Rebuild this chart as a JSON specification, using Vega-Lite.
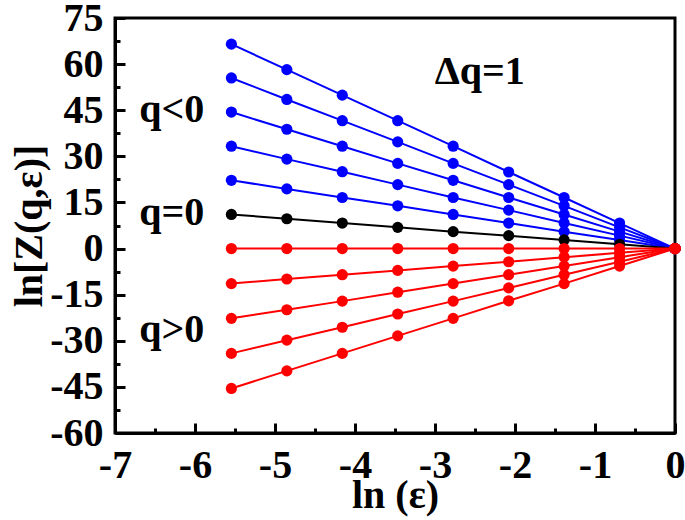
{
  "$schema": "https://vega.github.io/schema/vega-lite/v6.json",
  "width": 560,
  "height": 415,
  "autosize": "none",
  "padding": {"left": 115, "top": 18, "right": 10, "bottom": 87},
  "config": {
    "view": {"stroke": "black", "strokeWidth": 3},
    "font": "Liberation Serif"
  },
  "datasets": {
    "main": [
      {"q": -5, "grp": "neg", "x": -5.545, "y": 66.5}, {"q": -5, "grp": "neg", "x": -4.852, "y": 58.2}, {"q": -5, "grp": "neg", "x": -4.159, "y": 49.9}, {"q": -5, "grp": "neg", "x": -3.466, "y": 41.6}, {"q": -5, "grp": "neg", "x": -2.773, "y": 33.3}, {"q": -5, "grp": "neg", "x": -2.079, "y": 24.9}, {"q": -5, "grp": "neg", "x": -1.386, "y": 16.6}, {"q": -5, "grp": "neg", "x": -0.693, "y": 8.3}, {"q": -5, "grp": "neg", "x": 0, "y": 0},
      {"q": -4, "grp": "neg", "x": -5.545, "y": 55.5}, {"q": -4, "grp": "neg", "x": -4.852, "y": 48.5}, {"q": -4, "grp": "neg", "x": -4.159, "y": 41.6}, {"q": -4, "grp": "neg", "x": -3.466, "y": 34.7}, {"q": -4, "grp": "neg", "x": -2.773, "y": 27.7}, {"q": -4, "grp": "neg", "x": -2.079, "y": 20.8}, {"q": -4, "grp": "neg", "x": -1.386, "y": 13.9}, {"q": -4, "grp": "neg", "x": -0.693, "y": 6.9}, {"q": -4, "grp": "neg", "x": 0, "y": 0},
      {"q": -3, "grp": "neg", "x": -5.545, "y": 44.4}, {"q": -3, "grp": "neg", "x": -4.852, "y": 38.8}, {"q": -3, "grp": "neg", "x": -4.159, "y": 33.3}, {"q": -3, "grp": "neg", "x": -3.466, "y": 27.7}, {"q": -3, "grp": "neg", "x": -2.773, "y": 22.2}, {"q": -3, "grp": "neg", "x": -2.079, "y": 16.6}, {"q": -3, "grp": "neg", "x": -1.386, "y": 11.1}, {"q": -3, "grp": "neg", "x": -0.693, "y": 5.5}, {"q": -3, "grp": "neg", "x": 0, "y": 0},
      {"q": -2, "grp": "neg", "x": -5.545, "y": 33.3}, {"q": -2, "grp": "neg", "x": -4.852, "y": 29.1}, {"q": -2, "grp": "neg", "x": -4.159, "y": 25.0}, {"q": -2, "grp": "neg", "x": -3.466, "y": 20.8}, {"q": -2, "grp": "neg", "x": -2.773, "y": 16.6}, {"q": -2, "grp": "neg", "x": -2.079, "y": 12.5}, {"q": -2, "grp": "neg", "x": -1.386, "y": 8.3}, {"q": -2, "grp": "neg", "x": -0.693, "y": 4.2}, {"q": -2, "grp": "neg", "x": 0, "y": 0},
      {"q": -1, "grp": "neg", "x": -5.545, "y": 22.2}, {"q": -1, "grp": "neg", "x": -4.852, "y": 19.4}, {"q": -1, "grp": "neg", "x": -4.159, "y": 16.6}, {"q": -1, "grp": "neg", "x": -3.466, "y": 13.9}, {"q": -1, "grp": "neg", "x": -2.773, "y": 11.1}, {"q": -1, "grp": "neg", "x": -2.079, "y": 8.3}, {"q": -1, "grp": "neg", "x": -1.386, "y": 5.5}, {"q": -1, "grp": "neg", "x": -0.693, "y": 2.8}, {"q": -1, "grp": "neg", "x": 0, "y": 0},
      {"q": 0, "grp": "zero", "x": -5.545, "y": 11.1}, {"q": 0, "grp": "zero", "x": -4.852, "y": 9.7}, {"q": 0, "grp": "zero", "x": -4.159, "y": 8.3}, {"q": 0, "grp": "zero", "x": -3.466, "y": 6.9}, {"q": 0, "grp": "zero", "x": -2.773, "y": 5.5}, {"q": 0, "grp": "zero", "x": -2.079, "y": 4.2}, {"q": 0, "grp": "zero", "x": -1.386, "y": 2.8}, {"q": 0, "grp": "zero", "x": -0.693, "y": 1.4}, {"q": 0, "grp": "zero", "x": 0, "y": 0},
      {"q": 1, "grp": "pos", "x": -5.545, "y": 0}, {"q": 1, "grp": "pos", "x": -4.852, "y": 0}, {"q": 1, "grp": "pos", "x": -4.159, "y": 0}, {"q": 1, "grp": "pos", "x": -3.466, "y": 0}, {"q": 1, "grp": "pos", "x": -2.773, "y": 0}, {"q": 1, "grp": "pos", "x": -2.079, "y": 0}, {"q": 1, "grp": "pos", "x": -1.386, "y": 0}, {"q": 1, "grp": "pos", "x": -0.693, "y": 0}, {"q": 1, "grp": "pos", "x": 0, "y": 0},
      {"q": 2, "grp": "pos", "x": -5.545, "y": -11.4}, {"q": 2, "grp": "pos", "x": -4.852, "y": -9.9}, {"q": 2, "grp": "pos", "x": -4.159, "y": -8.5}, {"q": 2, "grp": "pos", "x": -3.466, "y": -7.1}, {"q": 2, "grp": "pos", "x": -2.773, "y": -5.7}, {"q": 2, "grp": "pos", "x": -2.079, "y": -4.3}, {"q": 2, "grp": "pos", "x": -1.386, "y": -2.8}, {"q": 2, "grp": "pos", "x": -0.693, "y": -1.4}, {"q": 2, "grp": "pos", "x": 0, "y": 0},
      {"q": 3, "grp": "pos", "x": -5.545, "y": -22.7}, {"q": 3, "grp": "pos", "x": -4.852, "y": -19.9}, {"q": 3, "grp": "pos", "x": -4.159, "y": -17.1}, {"q": 3, "grp": "pos", "x": -3.466, "y": -14.2}, {"q": 3, "grp": "pos", "x": -2.773, "y": -11.4}, {"q": 3, "grp": "pos", "x": -2.079, "y": -8.5}, {"q": 3, "grp": "pos", "x": -1.386, "y": -5.7}, {"q": 3, "grp": "pos", "x": -0.693, "y": -2.8}, {"q": 3, "grp": "pos", "x": 0, "y": 0},
      {"q": 4, "grp": "pos", "x": -5.545, "y": -34.1}, {"q": 4, "grp": "pos", "x": -4.852, "y": -29.8}, {"q": 4, "grp": "pos", "x": -4.159, "y": -25.6}, {"q": 4, "grp": "pos", "x": -3.466, "y": -21.3}, {"q": 4, "grp": "pos", "x": -2.773, "y": -17.1}, {"q": 4, "grp": "pos", "x": -2.079, "y": -12.8}, {"q": 4, "grp": "pos", "x": -1.386, "y": -8.5}, {"q": 4, "grp": "pos", "x": -0.693, "y": -4.3}, {"q": 4, "grp": "pos", "x": 0, "y": 0},
      {"q": 5, "grp": "pos", "x": -5.545, "y": -45.5}, {"q": 5, "grp": "pos", "x": -4.852, "y": -39.8}, {"q": 5, "grp": "pos", "x": -4.159, "y": -34.1}, {"q": 5, "grp": "pos", "x": -3.466, "y": -28.4}, {"q": 5, "grp": "pos", "x": -2.773, "y": -22.7}, {"q": 5, "grp": "pos", "x": -2.079, "y": -17.0}, {"q": 5, "grp": "pos", "x": -1.386, "y": -11.4}, {"q": 5, "grp": "pos", "x": -0.693, "y": -5.7}, {"q": 5, "grp": "pos", "x": 0, "y": 0}
    ],
    "labels": [
      {"label": "q<0", "x": -6.29, "y": 45},
      {"label": "q=0", "x": -6.29, "y": 11.6},
      {"label": "q>0", "x": -6.29, "y": -26.5},
      {"label": "Δq=1", "x": -2.44, "y": 57.4}
    ]
  },
  "layer": [
    {
      "data": {"name": "main"},
      "mark": {"type": "point", "opacity": 0},
      "encoding": {
        "x": {"field": "x", "type": "quantitative", "scale": {"domain": [-7, 0], "nice": false, "zero": false},
          "axis": {"orient": "bottom", "values": [-6.5, -5.5, -4.5, -3.5, -2.5, -1.5, -0.5], "labels": false, "domain": false, "grid": false, "tickSize": -5, "tickWidth": 3, "tickColor": "black", "title": null}},
        "y": {"field": "y", "type": "quantitative", "scale": {"domain": [-60, 75], "nice": false, "zero": false},
          "axis": {"orient": "left", "values": [-52.5, -37.5, -22.5, -7.5, 7.5, 22.5, 37.5, 52.5, 67.5], "labels": false, "domain": false, "grid": false, "tickSize": -5, "tickWidth": 3, "tickColor": "black", "title": null}}
      }
    },
    {
      "data": {"name": "main"},
      "mark": {"type": "line", "strokeWidth": 2, "point": {"filled": true, "size": 125, "opacity": 1}},
      "encoding": {
        "x": {"field": "x", "type": "quantitative", "scale": {"domain": [-7, 0], "nice": false, "zero": false},
          "axis": {"orient": "bottom", "values": [-7, -6, -5, -4, -3, -2, -1, 0], "grid": false, "tickSize": -10, "tickWidth": 3, "tickColor": "black",
            "domainColor": "black", "domainWidth": 3, "labelFont": "Liberation Serif", "labelFontWeight": "bold", "labelFontSize": 40, "labelColor": "black", "labelPadding": 22, "labelFlush": false,
            "labelExpr": "toString(datum.value)",
            "title": "ln (ε)", "titleFont": "Liberation Serif", "titleFontWeight": "bold", "titleFontSize": 40, "titleColor": "black", "titlePadding": -10}},
        "y": {"field": "y", "type": "quantitative", "scale": {"domain": [-60, 75], "nice": false, "zero": false},
          "axis": {"orient": "left", "values": [-60, -45, -30, -15, 0, 15, 30, 45, 60, 75], "grid": false, "tickSize": -10, "tickWidth": 3, "tickColor": "black",
            "domainColor": "black", "domainWidth": 3, "labelFont": "Liberation Serif", "labelFontWeight": "bold", "labelFontSize": 40, "labelColor": "black", "labelPadding": 22, "labelFlush": false,
            "labelExpr": "toString(datum.value)",
            "title": "ln[Z(q,ε)]", "titleFont": "Liberation Serif", "titleFontWeight": "bold", "titleFontSize": 40, "titleColor": "black", "titlePadding": 0}},
        "color": {"field": "grp", "type": "nominal", "scale": {"domain": ["neg", "zero", "pos"], "range": ["#0000ff", "#000000", "#ff0000"]}, "legend": null},
        "detail": {"field": "q", "type": "nominal"},
        "order": {"field": "x", "type": "quantitative"}
      }
    },
    {
      "data": {"name": "labels"},
      "mark": {"type": "text", "font": "Liberation Serif", "fontWeight": "bold", "fontSize": 40, "color": "black", "align": "center", "baseline": "middle"},
      "encoding": {
        "x": {"field": "x", "type": "quantitative", "axis": null},
        "y": {"field": "y", "type": "quantitative", "axis": null},
        "text": {"field": "label", "type": "nominal"}
      }
    }
  ],
  "resolve": {"axis": {"x": "independent", "y": "independent"}}
}
